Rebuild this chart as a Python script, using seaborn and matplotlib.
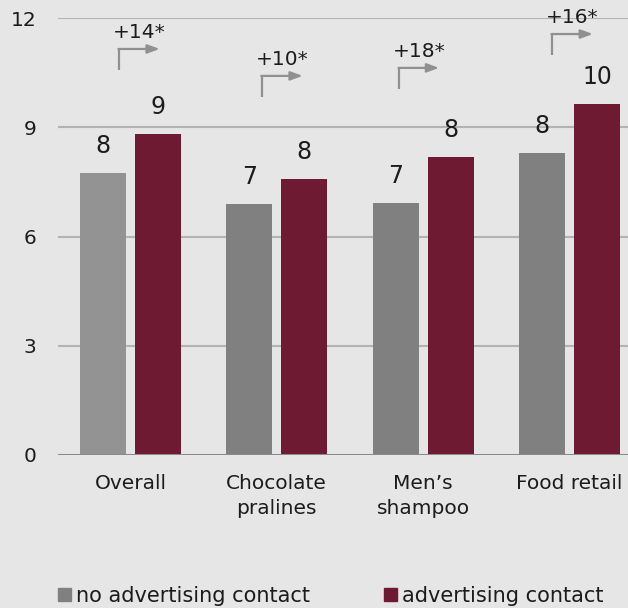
import matplotlib
matplotlib.use("Agg")
import matplotlib.pyplot as plt
import seaborn as sns
import pandas as pd

# --- data -------------------------------------------------------------
categories = ["Overall", "Chocolate\npralines", "Men’s\nshampoo", "Food retail"]
series_names = ["no advertising contact", "advertising contact"]
no_contact = [7.75, 6.88, 6.92, 8.28]
with_contact = [8.82, 7.58, 8.19, 9.64]
uplift_labels = ["+14*", "+10*", "+18*", "+16*"]
y_ticks = [0, 3, 6, 9, 12]

# --- layout / style ---------------------------------------------------
BG = "#e6e6e6"
GRID = "#b3b3b3"
TEXT = "#1c1c1c"
palette = {series_names[0]: "#808080", series_names[1]: "#6e1a33"}
first_bar_color = "#939393"
# elbow arrow geometry per category: (elbow x offset, tip x offset, elbow y)
arrow_layout = [(-0.078, 0.200, 11.15), (-0.102, 0.177, 10.41),
                (-0.164, 0.109, 10.63), (-0.119, 0.160, 11.56)]

df = pd.DataFrame({
    "category": categories * 2,
    "group": [series_names[0]] * 4 + [series_names[1]] * 4,
    "value": no_contact + with_contact,
})

sns.set_theme(style="white")
plt.rcParams["font.family"] = ["DejaVu Sans"]

W, H = 628, 608
fig = plt.figure(figsize=(W / 100, H / 100), dpi=100, facecolor=BG)
ax = fig.add_axes([58 / W, (H - 455) / H, (W - 58) / W, (455 - 18) / H])
ax.set_facecolor(BG)

sns.barplot(data=df, x="category", y="value", hue="group", palette=palette,
            saturation=1, width=0.75, gap=0.163, order=categories,
            hue_order=series_names, legend=False, ax=ax, zorder=3, linewidth=0)

# first reference bar is drawn in a lighter grey
bars = [p for p in ax.patches if p.get_height() > 0]
bars[0].set_facecolor(first_bar_color)

ax.set_xlim(-0.495, 3.40)
ax.set_ylim(0, 12)
ax.set_yticks(y_ticks)
ax.set_yticklabels([str(t) for t in y_ticks], fontsize=14.5, color=TEXT)
ax.tick_params(axis="y", length=0, pad=15.5)
ax.tick_params(axis="x", length=0, pad=13.5, labelsize=14.5, labelcolor=TEXT)
ax.set_xlabel("")
ax.set_ylabel("")
for lbl in ax.get_xticklabels():
    lbl.set_linespacing(1.45)
    lbl.set_horizontalalignment("center")

for t in y_ticks[1:]:
    ax.axhline(t, color=GRID, lw=1.5, zorder=1)
ax.axhline(0, color="#8a8a8a", lw=2.2, zorder=4)
for s in ax.spines.values():
    s.set_visible(False)

# value labels (rounded) above each bar
for p in bars:
    h = p.get_height()
    ax.annotate(f"{h:.0f}", (p.get_x() + p.get_width() / 2, h),
                xytext=(0, 19.5), textcoords="offset points",
                ha="center", va="center", fontsize=17, color=TEXT, zorder=5)

# uplift arrows
for i, (lab, (ex, tx, ey)) in enumerate(zip(uplift_labels, arrow_layout)):
    ax.plot([i + ex, i + ex], [ey - 0.58, ey], color="#909090", lw=1.6,
            solid_capstyle="butt", clip_on=False, zorder=5)
    ax.annotate("", xy=(i + tx, ey), xytext=(i + ex - 0.004, ey),
                arrowprops=dict(arrowstyle="-|>,head_length=0.6,head_width=0.22",
                                color="#909090", lw=1.6, shrinkA=0, shrinkB=0),
                annotation_clip=False, zorder=5)
    ax.text(i + (ex + tx) / 2, ey + 0.46, lab, ha="center", va="center",
            fontsize=14.5, color=TEXT, clip_on=False, zorder=5)

# legend row
handles = [plt.Rectangle((0, 0), 1, 1, color=palette[n]) for n in series_names]
leg = fig.legend(handles, series_names, loc="center left",
                 bbox_to_anchor=(48 / W, 1 - 596 / H), ncol=2, frameon=False,
                 fontsize=15, handlelength=0.6, handleheight=0.6,
                 handletextpad=0.25, columnspacing=3.55, labelcolor=TEXT,
                 borderpad=0)

fig.savefig("out.png", dpi=100, facecolor=BG)
